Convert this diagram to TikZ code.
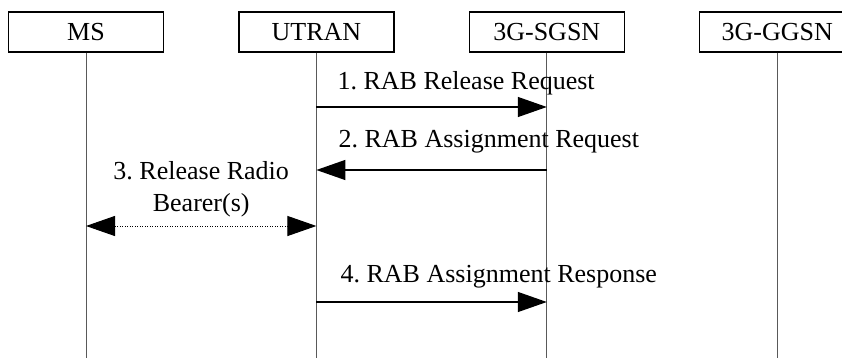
\documentclass[tikz,border=0pt]{standalone}
\usepackage{fontspec}
\setmainfont{Liberation Serif}
\usetikzlibrary{positioning, arrows.meta}
\frenchspacing

\begin{document}
\begin{tikzpicture}[
  x=1pt, y=-1pt,
  ent/.style={rectangle, draw, line width=1.4pt, minimum width=155pt, minimum height=40pt, inner sep=0pt, font=\fontsize{26}{32}\selectfont},
  life/.style={draw=black!65, line width=0.9pt},
  msg/.style={-{Triangle[length=29pt, width=20pt]}, line width=1.3pt},
  lab/.style={font=\fontsize{26}{32}\selectfont, inner sep=0pt},
  node distance=74pt
]
\clip (0,0) rectangle (842,358);
\node[ent] (ms) at (86,32) {MS};
\node[ent, right=of ms] (utran) {UTRAN};
\node[ent, right=of utran] (sgsn) {3G-SGSN};
\node[ent, right=of sgsn] (ggsn) {3G-GGSN};
% lifelines
\coordinate (msend) at (ms |- 0,358);
\coordinate (utranend) at (utran |- 0,358);
\coordinate (sgsnend) at (sgsn |- 0,358);
\coordinate (ggsnend) at (ggsn |- 0,358);
\draw[life] (ms) -- (msend);
\draw[life] (utran) -- (utranend);
\draw[life] (sgsn) -- (sgsnend);
\draw[life] (ggsn) -- (ggsnend);
% 1
\coordinate (u1) at (utran |- 0,107);
\coordinate (s1) at (sgsn |- 0,107);
\draw[msg] (u1) -- (s1);
\node[lab, anchor=west] (rel) at ([xshift=21pt, yshift=24pt]u1) {1. RAB Release Request};
% 2
\coordinate (u2) at (utran |- 0,170);
\coordinate (s2) at (sgsn |- 0,170);
\draw[msg] (s2) -- (u2);
\node[lab, anchor=west] (asg) at ([xshift=22pt, yshift=28pt]u2) {2. RAB Assignment Request};
% 3
\coordinate (m3) at (ms |- 0,226);
\coordinate (u3) at (utran |- 0,226);
\draw[{Triangle[length=29pt, width=20pt]}-{Triangle[length=29pt, width=20pt]}, line width=1pt, dash pattern=on 1pt off 1.5pt] (m3) -- node[lab, above=8pt, align=center] (rrb) {3. Release Radio\\Bearer(s)} (u3);
% 4
\coordinate (u4) at (utran |- 0,302);
\coordinate (s4) at (sgsn |- 0,302);
\draw[msg] (u4) -- (s4);
\node[lab, anchor=west] (rsp) at ([xshift=24pt, yshift=25pt]u4) {4. RAB Assignment Response};
\end{tikzpicture}
\end{document}
